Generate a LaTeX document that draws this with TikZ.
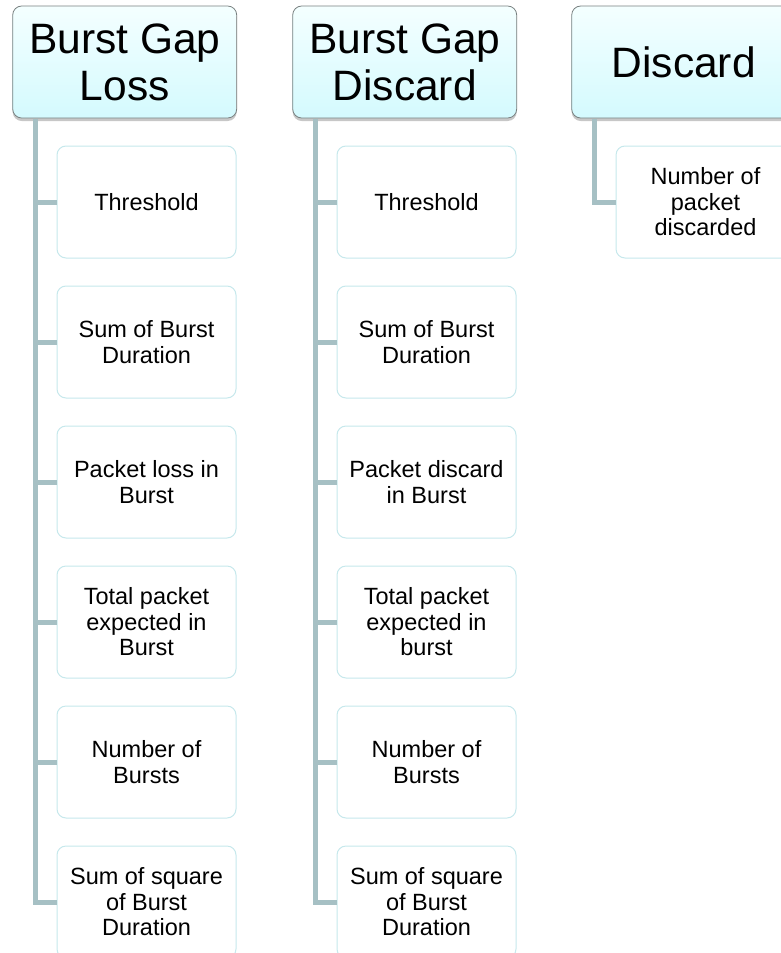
\documentclass[tikz,border=0pt]{standalone}
\usepackage{fontspec}
\setmainfont{Liberation Sans}
\usetikzlibrary{shadows,calc}
\definecolor{linec}{RGB}{166,192,196}
\definecolor{childb}{RGB}{198,232,236}
\definecolor{headtop}{RGB}{244,255,255}
\definecolor{headbot}{RGB}{212,250,254}
\definecolor{headb}{RGB}{120,128,128}
\begin{document}
\begin{tikzpicture}[x=1pt,y=-1pt,
  header/.style={draw=headb, line width=0.8pt, rounded corners=9pt,
    top color=headtop, bottom color=headbot,
    minimum width=224pt, minimum height=112pt, inner sep=0pt, align=center,
    font=\fontsize{42.5}{47}\selectfont,
    drop shadow={shadow xshift=0pt, shadow yshift=-3pt, opacity=0.22, fill=black}},
  child/.style={draw=childb, line width=1pt, fill=white, rounded corners=9pt,
    minimum width=179pt, minimum height=112pt, inner sep=0pt, align=center,
    font=\fontsize{23.5}{25.5}\selectfont},
  link/.style={draw=linec, line width=5pt, line join=miter}]
\useasboundingbox (0,0) rectangle (781,953);
\clip (0,0) rectangle (781,953);

% column 1
\node[header] (h1) at (124.7,62) {Burst Gap\\Loss};
\node[child] (c11) at (146.5,202) {Threshold};
\node[child] (c12) at (146.5,342) {Sum of Burst\\Duration};
\node[child] (c13) at (146.5,482) {Packet loss in\\Burst};
\node[child] (c14) at (146.5,622) {Total packet\\expected in\\Burst};
\node[child] (c15) at (146.5,762) {Number of\\Bursts};
\node[child] (c16) at (146.5,902) {Sum of square\\of Burst\\Duration};
\draw[link] ($(h1.south west)+(23.5,0.5)$) |- (c16.west);
\foreach \i in {11,12,13,14,15} \draw[link] (c\i.west) -- ++(-21.5,0);

% column 2
\node[header] (h2) at (404.7,62) {Burst Gap\\Discard};
\node[child] (c21) at (426.5,202) {Threshold};
\node[child] (c22) at (426.5,342) {Sum of Burst\\Duration};
\node[child] (c23) at (426.5,482) {Packet discard\\in Burst};
\node[child] (c24) at (426.5,622) {Total packet\\expected in\\burst};
\node[child] (c25) at (426.5,762) {Number of\\Bursts};
\node[child] (c26) at (426.5,902) {Sum of square\\of Burst\\Duration};
\draw[link] ($(h2.south west)+(23.5,0.5)$) |- (c26.west);
\foreach \i in {21,22,23,24,25} \draw[link] (c\i.west) -- ++(-21.5,0);

% column 3
\node[header] (h3) at (683.7,62) {Discard};
\node[child] (c31) at (705.5,202) {Number of\\packet\\discarded};
\draw[link] ($(h3.south west)+(23.5,0.5)$) |- (c31.west);
\end{tikzpicture}
\end{document}
